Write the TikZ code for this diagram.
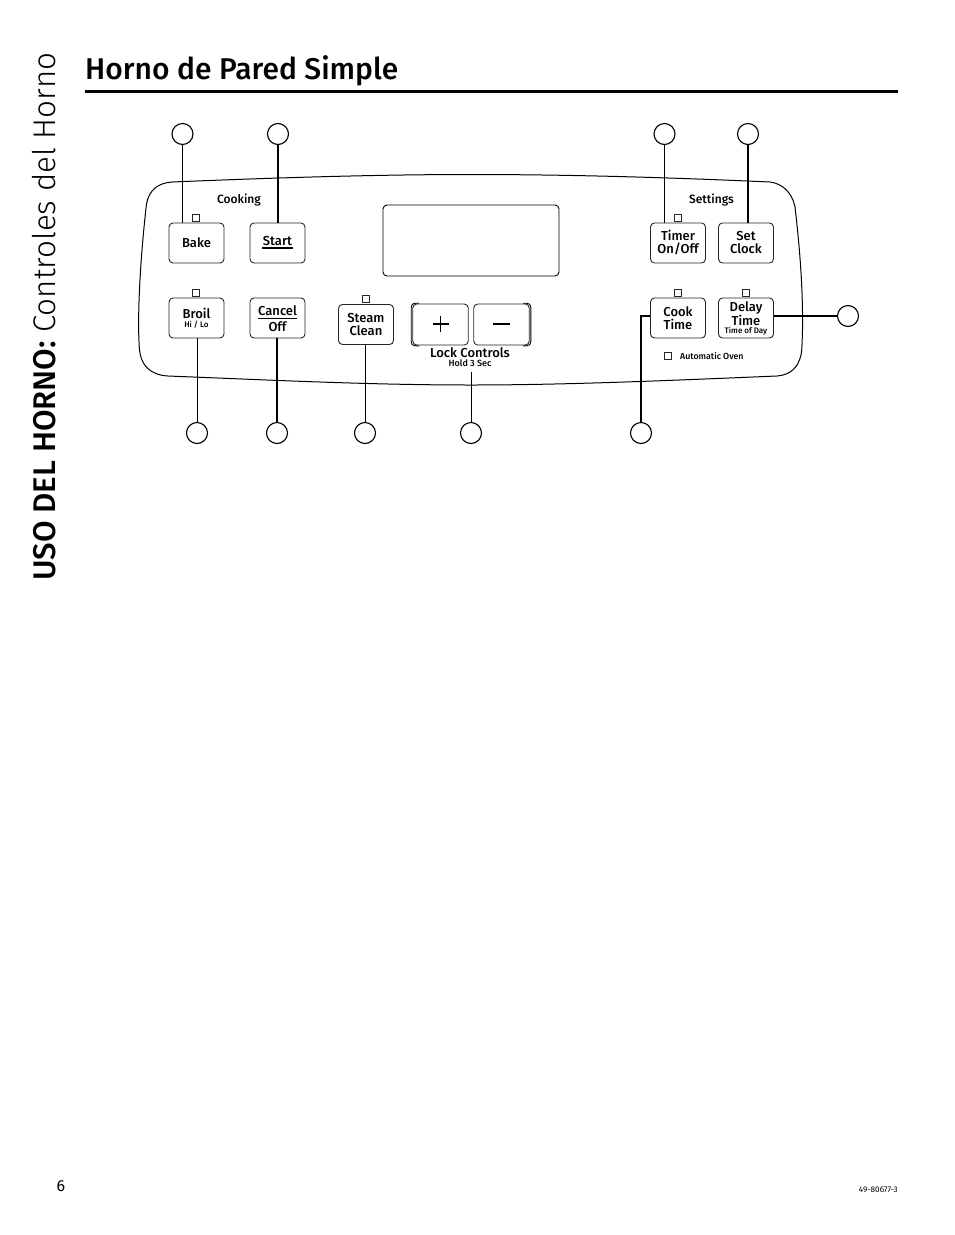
\documentclass[tikz,border=0pt]{standalone}
\usepackage{fontspec}
\setmainfont{Fira Sans}[BoldFont={Fira Sans Medium}]
\newfontfamily\lightfont{Fira Sans Light}
\usetikzlibrary{calc}
\tikzset{
	key/.style={draw=black!85, line width=0.9pt, rounded corners=4pt, minimum width=55pt, minimum height=40pt, inner sep=0pt, align=center, font=\fontsize{13}{13}\selectfont\bfseries},
	led/.style={draw=black!85, line width=0.8pt, minimum size=7pt, inner sep=0pt},
	callout/.style={draw, line width=1.1pt, circle, minimum size=21pt, inner sep=0pt},
	thinline/.style={line width=0.9pt},
	thickline/.style={line width=1.6pt},
	caption/.style={font=\fontsize{12}{12}\selectfont\bfseries},
	keytext/.style={font=\fontsize{13}{13}\selectfont\bfseries},
	subtext/.style={font=\fontsize{8}{8}\selectfont\bfseries}
}
\begin{document}
\begin{tikzpicture}[x=1pt, y=-1pt]
			%%%%% START %%%%%
			\useasboundingbox (0, 0) rectangle (954, 1235);
			
			\node[anchor=base west, inner sep=0pt, font=\fontsize{30}{30}\selectfont\bfseries] (title) at (85, 79) {Horno de Pared Simple};
			\draw[line width=3pt] (85, 91) -- (898, 91);
			\node[anchor=base west, inner sep=0pt, rotate=90, font=\fontsize{31.3}{31.3}\selectfont] (side) at (55, 581) {\textbf{USO DEL HORNO:} {\lightfont Controles del Horno}};
			
			% panel
			\draw[line width=1pt] (172, 182) .. controls (280, 177.5) and (380, 174.5) .. (471, 174.5)
				.. controls (570, 174.5) and (670, 177.5) .. (770, 182)
				.. controls (782, 183.5) and (792, 192) .. (795, 207)
				.. controls (800, 250) and (803, 290) .. (802.5, 330)
				.. controls (802, 345) and (802, 350) .. (801, 355)
				.. controls (798, 368) and (790, 375) .. (777, 376)
				.. controls (680, 380) and (570, 385) .. (471, 385)
				.. controls (370, 385) and (270, 380) .. (168, 376)
				.. controls (150, 375) and (141, 365) .. (139.5, 350)
				.. controls (137, 320) and (140, 260) .. (146.5, 204)
				.. controls (149, 190) and (158, 183) .. (172, 182) -- cycle;
			
			\node[caption] (cooking) at (239, 200) {Cooking};
			\node[caption] (settings) at (711.5, 200) {Settings};
			\draw[line width=0.9pt, rounded corners=4pt] (383, 205) rectangle (559, 276);
			
			% keys
			\node[key] (bake) at (196.5, 243) {Bake};
			\node[key] (start) at (277.5, 243) {};
			\node[key] (broil) at (196.5, 318) {};
			\node[key] (cancel) at (277.5, 318) {};
			\node[key] (steam) at (366, 324.5) {Steam\\Clean};
			\node[key] (timer) at (678, 243) {Timer\\On/Off};
			\node[key] (clock) at (746, 243) {Set\\Clock};
			\node[key] (cook) at (678, 318) {Cook\\Time};
			\node[key] (delay) at (746, 318) {};
			
			\node[keytext] at (277.5, 241) {Start};
			\draw[line width=1.1pt] (262, 248) -- (292.5, 248);
			\node[keytext] at (196.5, 313.5) {Broil};
			\node[subtext] at (196.5, 324.5) {Hi / Lo};
			\node[keytext] at (277.5, 310.5) {Cancel};
			\draw[line width=0.9pt] (258, 318.5) -- (297, 318.5);
			\node[keytext] at (277.5, 327) {Off};
			\node[keytext] at (746, 308.5) {Delay};
			\node[keytext] at (746, 320.5) {Time};
			\node[subtext] at (746, 331) {Time of Day};
			
			\node[key, minimum width=55.5pt, minimum height=41pt] (plus) at (440.5, 324.5) {};
			\node[key, minimum width=55.5pt, minimum height=41pt] (minus) at (501.5, 324.5) {};
			\draw[line width=0.9pt] (419, 303.2) -- (415.5, 303.2) .. controls (412.5, 303.2) and (411.2, 304.5) .. (411.2, 307.5) -- (411.2, 341.5) .. controls (411.2, 344.5) and (412.5, 345.8) .. (415.5, 345.8) -- (419, 345.8);
			\draw[line width=0.9pt] (523, 303.2) -- (526.5, 303.2) .. controls (529.5, 303.2) and (530.8, 304.5) .. (530.8, 307.5) -- (530.8, 341.5) .. controls (530.8, 344.5) and (529.5, 345.8) .. (526.5, 345.8) -- (523, 345.8);
			\draw[line width=1.5pt] (432.5, 324) -- (448.5, 324);
			\draw[line width=1.5pt] (440.5, 316) -- (440.5, 332);
			\draw[line width=1.7pt] (493, 324) -- (510, 324);
			
			\node[font=\fontsize{13}{13}\selectfont\bfseries] (lock) at (470, 353) {Lock Controls};
			\node[font=\fontsize{9}{9}\selectfont\bfseries] (hold) at (470, 363.5) {Hold 3 Sec};
			
			% leds
			\node[led] at (196, 218) {};
			\node[led] at (196, 293) {};
			\node[led] at (366, 299) {};
			\node[led] at (678, 218) {};
			\node[led] at (678, 293) {};
			\node[led] at (746, 293) {};
			\node[led, minimum size=7.5pt] (auto) at (668, 356) {};
			\node[anchor=west, inner sep=0pt, font=\fontsize{8.8}{8.8}\selectfont\bfseries] at (680, 356.5) {Automatic Oven};
			
			% callouts
			\node[callout] (cBake) at (182.5, 134) {};
			\node[callout] (cStart) at (278, 134) {};
			\node[callout] (cTimer) at (664.5, 134) {};
			\node[callout] (cClock) at (748, 134) {};
			\node[callout] (cBroil) at (197, 433) {};
			\node[callout] (cCancel) at (277, 433) {};
			\node[callout] (cSteam) at (365, 433) {};
			\node[callout] (cLock) at (471, 433) {};
			\node[callout] (cCook) at (641, 433) {};
			\node[callout] (cDelay) at (848, 316) {};
			\coordinate (lockEnd) at (471, 372);
			
			\draw[thinline] (cBake) -- (cBake |- bake.north);
			\draw[thickline] (cStart) -- (cStart |- start.north);
			\draw[thinline] (cTimer) -- (cTimer |- timer.north);
			\draw[thickline] (cClock) -- (cClock |- clock.north);
			\draw[thinline] (cBroil) -- (cBroil |- broil.south);
			\draw[thickline] (cCancel) -- (cCancel |- cancel.south);
			\draw[thinline] (cSteam) -- (cSteam |- steam.south);
			\draw[thinline] (cLock) -- (lockEnd);
			\draw[line width=1.2pt] (cCook) |- (cook.west |- cDelay);
			\draw[thickline] (cDelay) -- (cDelay -| delay.east);
			
			\node[anchor=base, inner sep=0pt, font=\fontsize{16}{16}\selectfont] (page) at (61, 1191) {6};
			\node[anchor=base east, inner sep=0pt, font=\fontsize{8.2}{8.2}\selectfont] (code) at (898, 1192) {49-80677-3};
			%%%%% END %%%%%
		\end{tikzpicture}
\end{document}
